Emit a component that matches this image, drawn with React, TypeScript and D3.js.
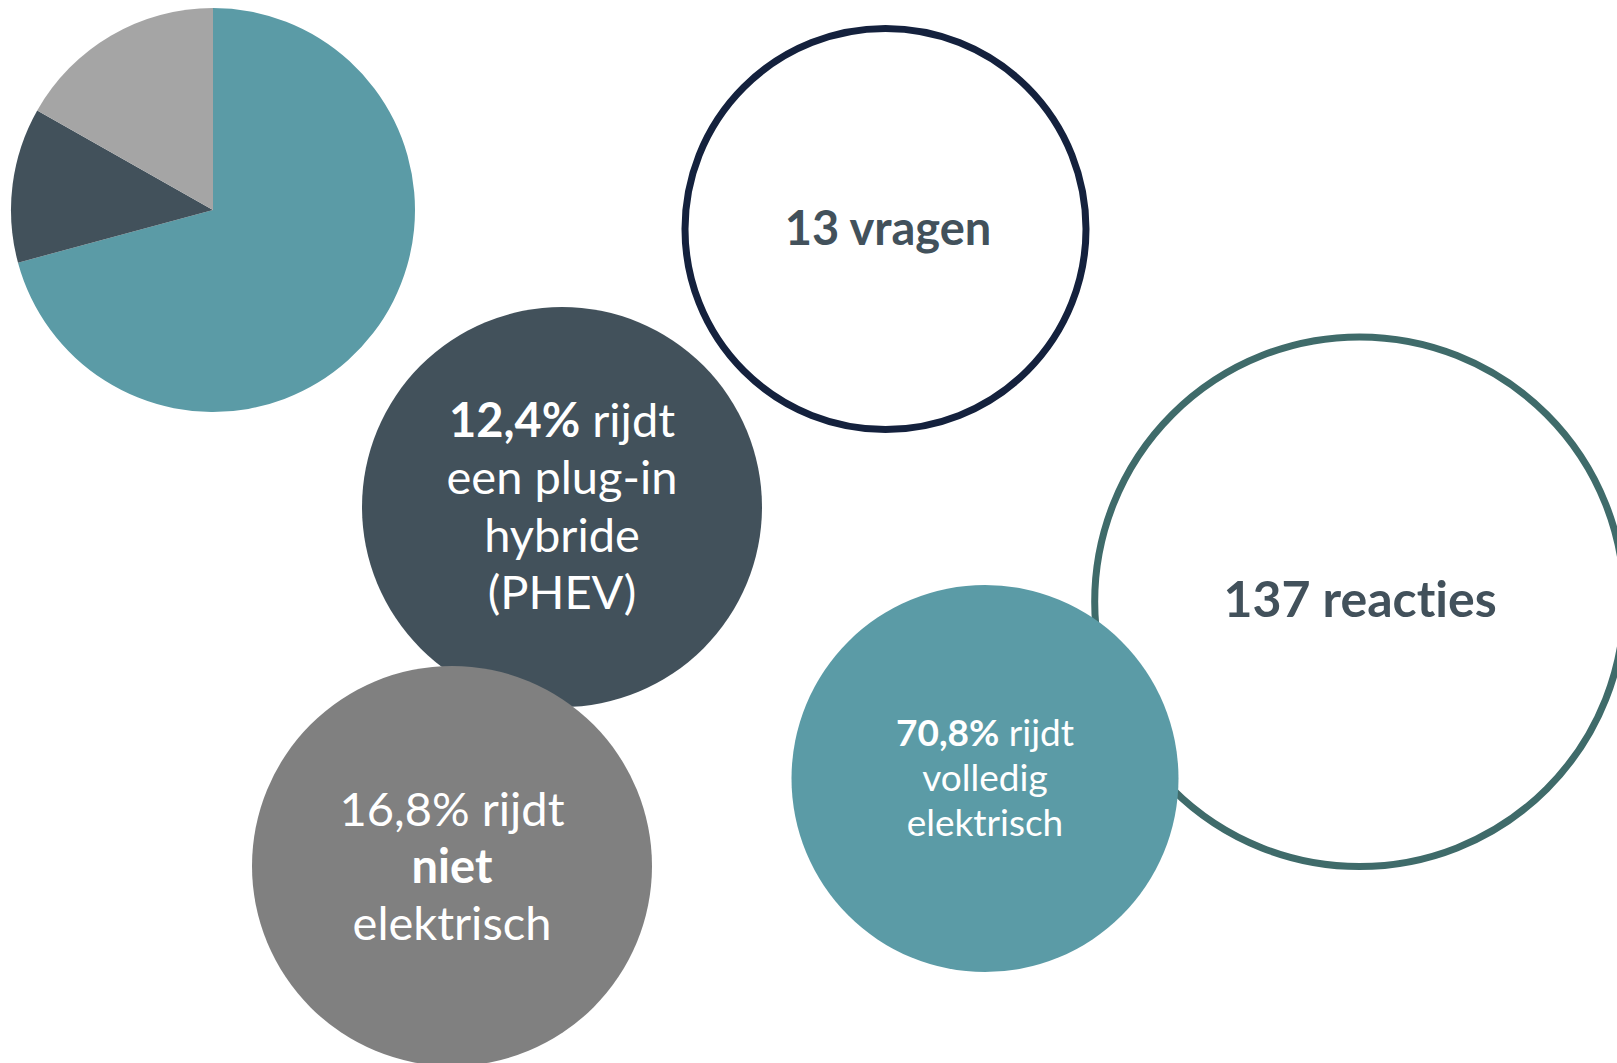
import React, { useEffect, useRef } from "react";
import * as d3 from "d3";

// ---- data ----
const categories = ["volledig elektrisch", "plug-in hybride (PHEV)", "niet elektrisch"];
const shares = [70.8, 12.4, 16.8];
const shareLabels = ["70,8%", "12,4%", "16,8%"];
const questionCount = 13;
const responseCount = 137;

// ---- styles / layout ----
const W = 1617;
const H = 1063;
const FONT = "Lato, 'Source Sans Pro', 'Noto Sans', sans-serif";
const TEXT_DARK = "#42515B";
const sliceColors = ["#5B9BA6", "#42515B", "#A5A5A5"];
const bubbleColors = ["#5B9BA6", "#42515B", "#808080"];

type Span = { t: string; bold?: boolean };
type Bubble = { cx: number; cy: number; r: number; fill: string; fs: number; lh: number; y0: number; lines: Span[][] };

export default function App() {
  const ref = useRef<SVGSVGElement | null>(null);

  useEffect(() => {
    const svg = d3.select(ref.current);
    svg.selectAll("*").remove();

    // pie
    const pie = d3.pie<number>().sort(null).value((d) => d).startAngle(0).endAngle(2 * Math.PI);
    const arc = d3.arc<d3.PieArcDatum<number>>().innerRadius(0).outerRadius(202);
    svg
      .append("g")
      .attr("transform", "translate(213,210)")
      .selectAll("path")
      .data(pie(shares))
      .join("path")
      .attr("d", arc)
      .attr("fill", (_d, i) => sliceColors[i]);

    // outlined info circles
    const outlines = [
      { cx: 885.5, cy: 229, r: 200.5, stroke: "#14213D", sw: 7, text: `${questionCount} vragen`, fs: 47, tx: 888, by: 245 },
      { cx: 1359.5, cy: 601.7, r: 264.8, stroke: "#3F6B6A", sw: 7, text: `${responseCount} reacties`, fs: 50, tx: 1360, by: 617 },
    ];
    const og = svg.append("g");
    outlines.forEach((o) => {
      og.append("circle")
        .attr("cx", o.cx)
        .attr("cy", o.cy)
        .attr("r", o.r)
        .attr("fill", "#fff")
        .attr("stroke", o.stroke)
        .attr("stroke-width", o.sw);
      og.append("text")
        .attr("x", o.tx)
        .attr("y", o.by)
        .attr("text-anchor", "middle")
        .attr("font-family", FONT)
        .attr("font-weight", 700)
        .attr("font-size", o.fs)
        .attr("fill", TEXT_DARK)
        .style("font-variant-ligatures", "none")
        .style("font-feature-settings", "'liga' 0, 'clig' 0")
        .text(o.text);
    });

    // filled bubbles (order: dark PHEV, gray niet, teal volledig)
    const bubbles: Bubble[] = [
      {
        cx: 562, cy: 507, r: 200, fill: bubbleColors[1], fs: 47, lh: 57.3, y0: 437,
        lines: [[{ t: shareLabels[1], bold: true }, { t: " rijdt" }], [{ t: "een plug-in" }], [{ t: "hybride" }], [{ t: "(PHEV)" }]],
      },
      {
        cx: 452, cy: 866, r: 200, fill: bubbleColors[2], fs: 47, lh: 57, y0: 826,
        lines: [[{ t: shareLabels[2] + " rijdt" }], [{ t: "niet", bold: true }], [{ t: "elektrisch" }]],
      },
      {
        cx: 985, cy: 778.5, r: 193.5, fill: bubbleColors[0], fs: 37, lh: 45, y0: 746,
        lines: [[{ t: shareLabels[0], bold: true }, { t: " rijdt" }], [{ t: "volledig" }], [{ t: "elektrisch" }]],
      },
    ];
    const bg = svg.append("g");
    bubbles.forEach((b) => {
      bg.append("circle").attr("cx", b.cx).attr("cy", b.cy).attr("r", b.r).attr("fill", b.fill);
      b.lines.forEach((line, li) => {
        const t = bg
          .append("text")
          .attr("x", b.cx)
          .attr("y", b.y0 + li * b.lh)
          .attr("text-anchor", "middle")
          .attr("font-family", FONT)
          .attr("font-size", b.fs)
          .attr("fill", "#fff")
          .style("font-variant-ligatures", "none");
        line.forEach((s) => {
          t.append("tspan").attr("font-weight", s.bold ? 700 : 400).text(s.t);
        });
      });
    });
    svg.append("title").text(categories.join(", "));
  }, []);

  return (
    <svg
      ref={ref}
      width={W}
      height={H}
      viewBox={`0 0 ${W} ${H}`}
      style={{ position: "absolute", left: 0, top: 0, display: "block", background: "#fff" }}
    />
  );
}
